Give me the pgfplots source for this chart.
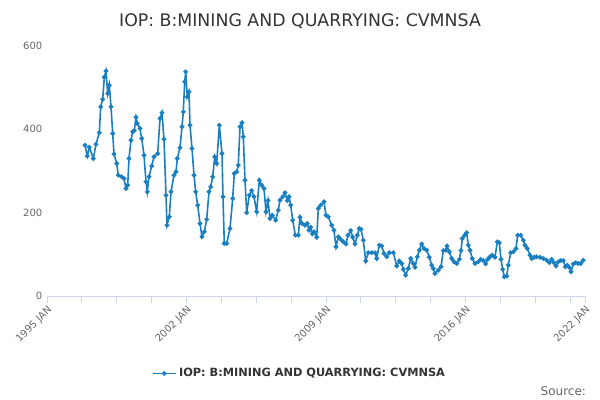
\documentclass[border=0pt]{standalone}
\usepackage{pgfplots}
\pgfplotsset{compat=1.18}
\usepackage{fontspec}
\setmainfont{DejaVu Sans}
\definecolor{ser}{HTML}{1A7FC1}
\definecolor{gridc}{HTML}{E6E6E6}
\definecolor{axc}{HTML}{CCD6EB}
\definecolor{txt}{HTML}{666666}
\begin{document}
\begin{tikzpicture}
\path[use as bounding box] (0,0) rectangle (450pt,300pt);
\node[font=\fontsize{13}{15}\selectfont, text=black!80] at (225pt,284pt) {IOP: B:MINING AND QUARRYING: CVMNSA};
\node[anchor=east,font=\fontsize{9}{11}\selectfont,text=txt] at (443pt,7pt) {Source:};
\begin{axis}[
  at={(35.25pt,78pt)}, anchor=south west, scale only axis,
  width=403.5pt, height=187.5pt,
  xmin=1995, xmax=2022, ymin=0, ymax=600,
  axis y line=none, axis x line*=bottom,
  x axis line style={axc, -},
  ytick={0,200,400,600},
  ymajorgrids, grid style={gridc, line width=0.6pt},
  xtick={1995,2002,2009,2016,2022},
  xticklabels={1995 JAN,2002 JAN,2009 JAN,2016 JAN,2022 JAN},
  minor xtick={1996.75,1998.5,2000.25,2003.75,2005.5,2007.25,2010.75,2012.5,2014.25,2017.75,2019.5,2021.25},
  xtick style={axc, line width=0.6pt}, major tick length=5pt, minor tick length=5pt, tick align=outside,
  xticklabel style={rotate=45, anchor=north east, font=\fontsize{7.5}{9}\selectfont, text=txt, inner sep=1pt},
  clip=false,
  legend style={at={(rel axis cs:0.47,-0.31)}, anchor=center, draw=none, font=\fontsize{8.5}{10}\selectfont\bfseries, text=black!80},
  legend cell align=left,
]
\foreach \v in {0,200,400,600} {
  \edef\tmp{\noexpand\node[anchor=east,font=\noexpand\fontsize{7.5}{9}\noexpand\selectfont,text=txt] at (axis cs:1995,\v) {\v\noexpand\hspace{2pt}};}
  \tmp
}
\addplot[ser, line width=1.2pt, mark=*, mark size=1.1pt] table[x expr={1995+(\thisrowno{0}-47)/19.926}, y index=1] {
85 362
87.3 336
89.3 357
93.3 330
96 364
99.3 392
100.7 454
102.7 472
104.3 525
106 540
107.7 486
109.3 506
111 454
112.7 390
114 341
116.7 318
118.3 290
121.7 286
124 282
126 258
127.7 266
129 330
131 374
132.7 394
134.3 397
136 429
137.3 414
140 402
141.7 378
144 338
146 274
147.3 250
149 286
151.7 312
154 334
157.7 342
160 426
162 440
164 376
166 242
167 170
169.3 190
171 250
174 290
176 298
177.3 330
180 356
182 406
183.3 442
184.7 514
185.7 538
187.3 478
189 490
190 410
192 354
194 290
195.7 250
197.7 218
200 174
202 142
204.3 154
206.7 184
209 250
210.7 262
212.7 286
214.7 334
216.7 318
219.3 410
222 342
223 238
224.3 126
226.7 126
230 162
232.7 234
234.3 294
236.7 298
238.3 314
240 406
242 416
243.3 382
245 278
246.7 200
249.3 242
251.7 253
254 238
256.7 202
259.3 278
261.7 266
264 258
266 202
268 229
270 186
272.3 194
275.7 182
278.3 206
280 230
282.7 238
285 248
287.3 229
289 238
290.7 218
292.7 182
295.3 146
298.3 146
300 189
302 174
305 170
307.3 174
309 158
310.7 165
312.3 149
314 154
316.7 141
318.3 210
320.7 218
324 226
326 194
328.3 190
331.7 170
334 158
336 118
338.3 142
340.7 136
343.3 130
346 125
348 146
350.7 157
352.7 141
355 125
357.3 146
359.3 162
361 160
363.3 134
365.7 84
368.3 104
371.7 104
375 104
376.7 90
379.3 122
381.7 120
384 102
386.7 94
389.3 104
393.3 104
396.7 72
399.3 84
401.7 78
403.3 64
405.7 50
408.3 66
410.7 90
413.3 78
415 69
417.3 94
419.3 110
421.7 125
424 114
426.7 110
429.3 93
431.7 74
433.3 66
435 54
438.3 62
441 70
443.3 109
445.7 110
447 120
449.3 106
451.7 90
454 82
456.7 78
459.3 88
461 109
462.3 138
464.7 146
466.7 152
468.3 122
470 110
472.3 90
475 78
478.3 82
480.7 88
483.3 85
485.7 77
487.7 88
490 94
492.3 98
495 93
497.3 130
499.3 128
501 88
502.7 64
504.3 46
506.7 48
508.3 74
510.7 104
513.3 106
516 114
517.7 146
520.7 146
523.3 134
525 122
527.3 114
530 98
531.7 90
534.3 93
536.7 94
540 93
543.3 90
546.7 86
549.3 80
551.7 88
554 80
556 72
558.3 82
560.7 85
563.3 85
565.3 70
567.3 74
569.3 69
571 58
573.3 77
575.7 80
578.3 78
580.7 78
583.3 86
};
\addlegendentry{IOP: B:MINING AND QUARRYING: CVMNSA}
\end{axis}
\end{tikzpicture}
\end{document}
